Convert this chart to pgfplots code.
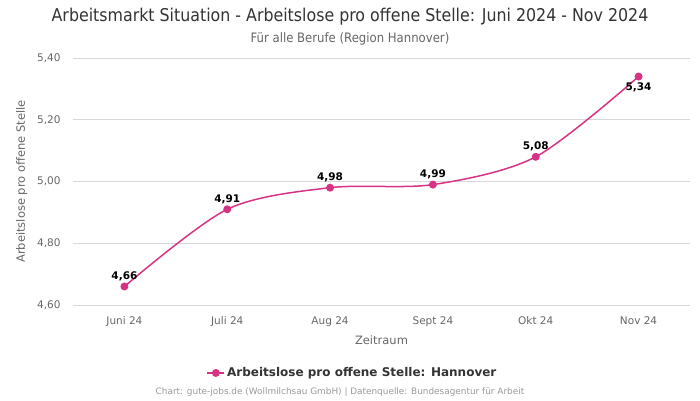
\documentclass[border=0pt]{standalone}
\usepackage{pgfplots}
\pgfplotsset{compat=1.18}
\usepackage{fontspec}
\setmainfont{DejaVu Sans}
\newfontfamily\condfont{DejaVu Sans Condensed}
\definecolor{linec}{RGB}{214,51,132}
\definecolor{gridc}{RGB}{216,216,216}
\definecolor{axisc}{RGB}{204,214,235}
\definecolor{titlec}{RGB}{51,51,51}
\definecolor{subc}{RGB}{102,102,102}
\definecolor{creditc}{RGB}{153,153,153}
\begin{document}
\begin{tikzpicture}
\path (0pt,0pt) rectangle (700pt,-400pt);
\node[anchor=center,text=titlec,font=\condfont\fontsize{17.6}{20}\selectfont] at (350pt,-17pt) {Arbeitsmarkt Situation - Arbeitslose pro offene Stelle: Juni 2024 - Nov 2024};
\node[anchor=center,text=subc,font=\condfont\fontsize{13}{15}\selectfont] at (350pt,-39pt) {Für alle Berufe (Region Hannover)};
\node[anchor=center,text=creditc,font=\fontsize{8.9}{10}\selectfont] at (340pt,-392pt) {Chart: gute-jobs.de (Wollmilchsau GmbH) | Datenquelle: Bundesagentur für Arbeit};
\begin{axis}[
  at={(73pt,-305pt)}, anchor=south west,
  width=617pt, height=247pt, scale only axis,
  xmin=-0.5, xmax=5.5, ymin=4.6, ymax=5.4,
  xtick={0,1,2,3,4,5},
  xticklabels={Juni 24, Juli 24, Aug 24, Sept 24, Okt 24, Nov 24},
  ytick={4.6,4.8,5.0,5.2,5.4},
  /pgf/number format/fixed, /pgf/number format/fixed zerofill,
  /pgf/number format/precision=2, /pgf/number format/use comma,
  /pgf/number format/assume math mode=true,
  ymajorgrids, grid style={gridc, line width=0.7pt},
  axis line style={draw=none},
  axis x line*=bottom,
  x axis line style={axisc, line width=0.8pt},
  major tick length=0pt,
  tick label style={text=subc, font=\fontsize{10.5}{12}\selectfont},
  xticklabel style={yshift=-8pt},
  yticklabel style={xshift=-9pt},
  xlabel={Zeitraum}, ylabel={Arbeitslose pro offene Stelle},
  label style={text=subc, font=\fontsize{11.5}{13}\selectfont},
  xlabel style={yshift=-2pt},
  ylabel style={yshift=3pt},
  clip=false,
  legend style={at={(0.453,-0.275)}, anchor=center, draw=none, fill=none,
     font=\bfseries\fontsize{12}{14}\selectfont, text=titlec},
  legend cell align=left,
]
\addplot[color=linec, line width=1.5pt, smooth, tension=0.5, mark=*, mark size=3.2pt,
  mark options={fill=linec, draw=linec}] coordinates {
  (0,4.66) (1,4.91) (2,4.98) (3,4.99) (4,5.08) (5,5.34)
};
\addlegendentry{Arbeitslose pro offene Stelle: Hannover}
\addplot[only marks, mark=none, forget plot,
  nodes near coords, point meta=explicit,
  nodes near coords style={font=\bfseries\fontsize{10.5}{12}\selectfont, text=black, yshift=2pt},
  ] coordinates {
  (0,4.66) [4.66]
  (1,4.91) [4.91]
  (2,4.98) [4.98]
  (3,4.99) [4.99]
  (4,5.08) [5.08]
};
\addplot[only marks, mark=none, forget plot,
  nodes near coords, point meta=explicit, nodes near coords align={below},
  nodes near coords style={font=\bfseries\fontsize{10.5}{12}\selectfont, text=black, yshift=-3pt},
  ] coordinates {(5,5.34) [5.34]};
\end{axis}
\end{tikzpicture}
\end{document}
